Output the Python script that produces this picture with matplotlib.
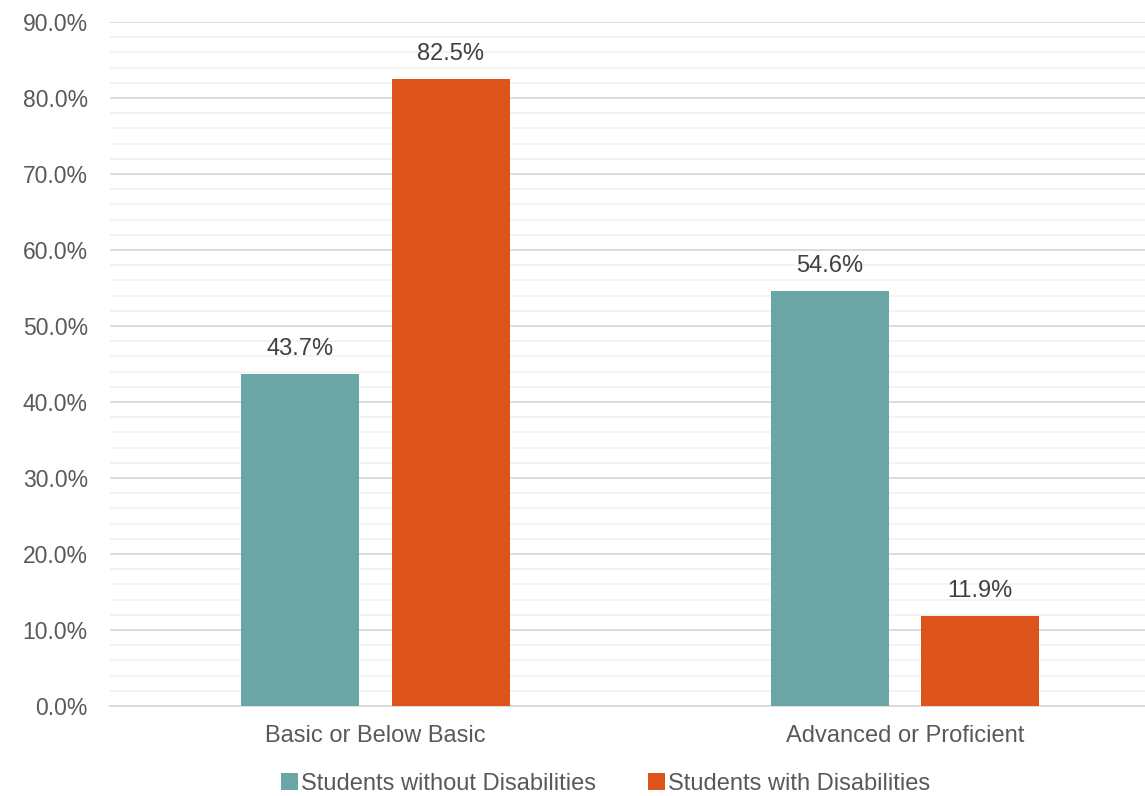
import numpy as np
import matplotlib.pyplot as plt
from matplotlib.ticker import MultipleLocator, FuncFormatter

categories = ["Basic or Below Basic", "Advanced or Proficient"]
without_dis = [43.7, 54.6]
with_dis = [82.5, 11.9]

teal = "#69a6a5"
orange = "#dc541a"
txt = "#595959"

plt.rcParams['font.family'] = ['Liberation Sans', 'DejaVu Sans']

fig = plt.figure(figsize=(11.45, 7.96), dpi=100)
ax = fig.add_axes([110 / 1145, 90 / 796, 1035 / 1145, 684 / 796])

x = np.arange(len(categories))
w = 0.223
b1 = ax.bar(x - 0.142, without_dis, w, color=teal, label="Students without Disabilities", zorder=3)
b2 = ax.bar(x + 0.142, with_dis, w, color=orange, label="Students with Disabilities", zorder=3)

for bars in (b1, b2):
    for r in bars:
        ax.text(r.get_x() + r.get_width() / 2, r.get_height() + 1.8, f"{r.get_height():.1f}%",
                ha="center", va="bottom", fontsize=17, color="#404040")

ax.set_ylim(0, 90)
ax.set_xlim(-0.501, 1.453)
ax.yaxis.set_major_locator(MultipleLocator(10))
ax.yaxis.set_minor_locator(MultipleLocator(2))
ax.yaxis.set_major_formatter(FuncFormatter(lambda v, p: f"{v:.1f}%"))
ax.grid(axis="y", which="major", color="#d9d9d9", linewidth=1.3, zorder=0)
ax.grid(axis="y", which="minor", color="#f2f2f2", linewidth=1.3, zorder=0)
ax.tick_params(axis="y", which="both", length=0, labelsize=16.5, labelcolor=txt, pad=16)
ax.tick_params(axis="x", length=0, labelsize=17, labelcolor=txt, pad=14)
ax.set_xticks(x)
ax.set_xticklabels(categories)
for s in ["top", "right", "left"]:
    ax.spines[s].set_visible(False)
ax.spines["bottom"].set_color("#d9d9d9")
ax.spines["bottom"].set_linewidth(1.3)

fig.legend(loc="center", bbox_to_anchor=(606 / 1145, 1 - 784 / 796), ncol=2, frameon=False,
           fontsize=17, labelcolor=txt, handlelength=0.7, handleheight=0.7,
           handletextpad=0.15, columnspacing=2.2)

fig.savefig("out.png", dpi=100)
